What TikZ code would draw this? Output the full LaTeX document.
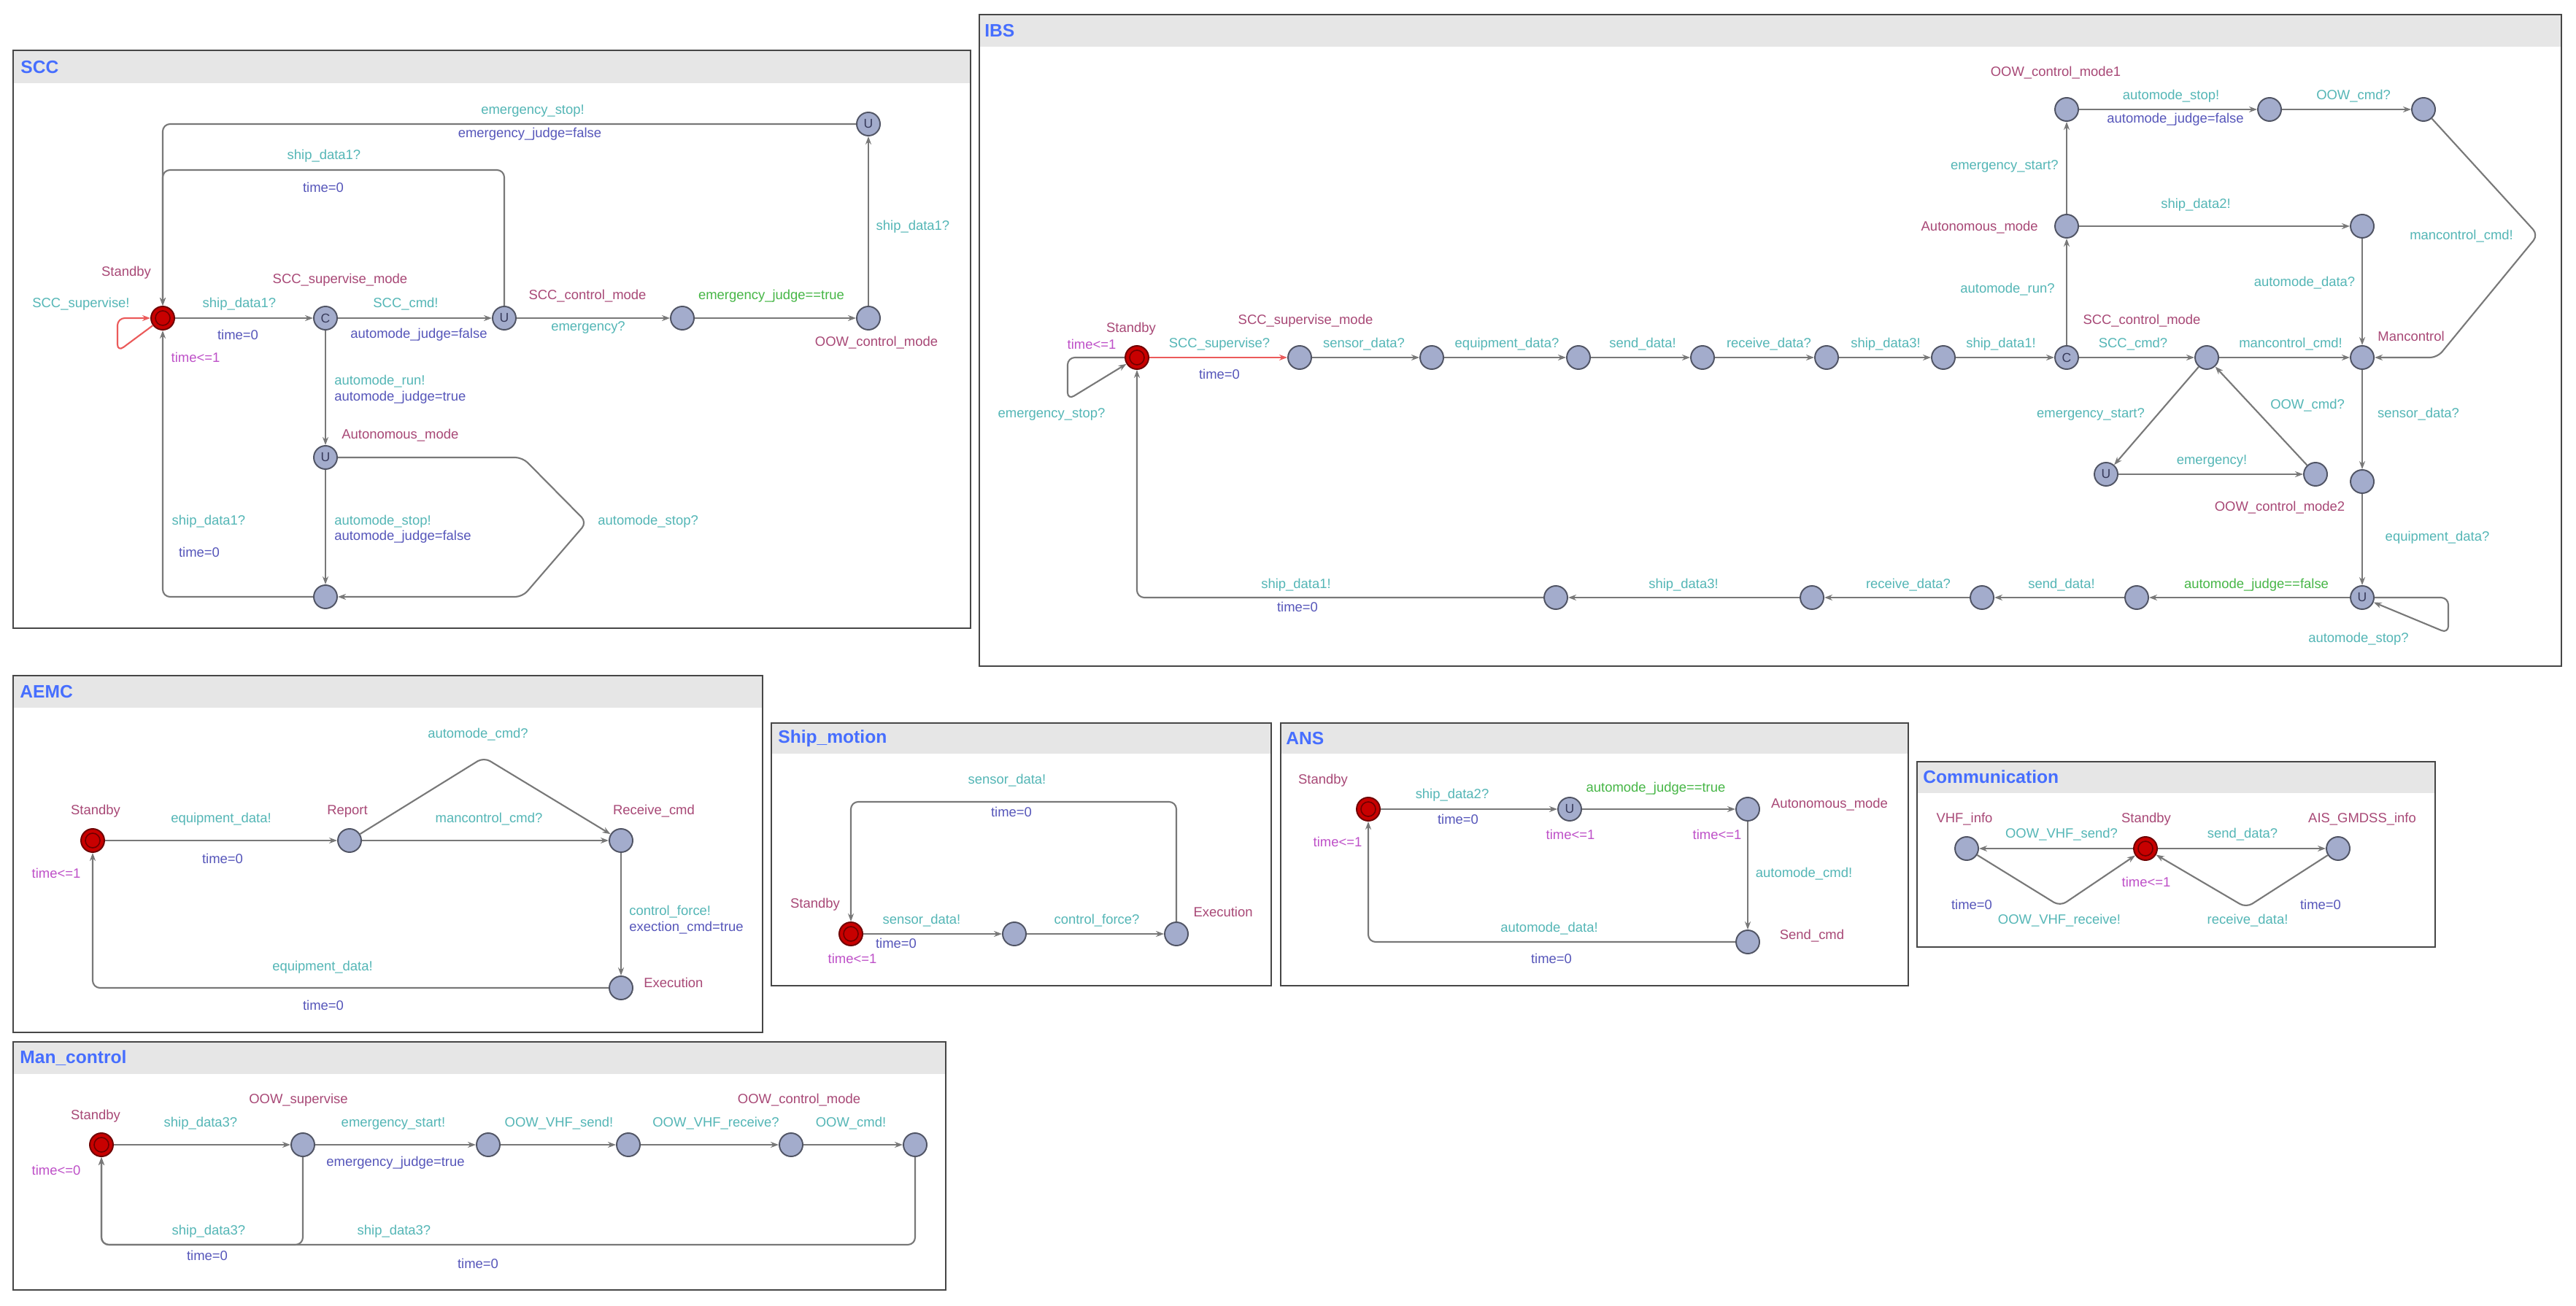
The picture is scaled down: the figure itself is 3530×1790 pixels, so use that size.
\documentclass[tikz,border=0pt]{standalone}
\usepackage{fontspec}
\setmainfont{Liberation Sans}
\usetikzlibrary{arrows.meta}
\definecolor{locf}{RGB}{163,172,204}
\definecolor{locb}{RGB}{80,84,100}
\definecolor{initf}{RGB}{200,0,0}
\definecolor{initb}{RGB}{110,0,0}
\definecolor{edgec}{RGB}{120,120,120}
\definecolor{redc}{RGB}{235,90,90}
\definecolor{namec}{RGB}{168,72,118}
\definecolor{syncc}{RGB}{84,182,182}
\definecolor{updc}{RGB}{86,86,186}
\definecolor{guardc}{RGB}{70,182,70}
\definecolor{invc}{RGB}{190,80,200}
\definecolor{titlec}{RGB}{70,110,255}
\definecolor{barc}{RGB}{230,230,230}
\definecolor{panelc}{RGB}{70,70,70}
\definecolor{markc}{RGB}{55,58,90}
\tikzset{
  loc/.style={circle, draw=locb, fill=locf, line width=1.1pt, minimum size=0.64cm, inner sep=0pt,
    text=markc, font=\fontsize{10}{12}\selectfont},
  initloc/.style={circle, draw=initb, fill=initf, line width=1.1pt, minimum size=0.64cm, inner sep=0pt,
    path picture={\draw[initb, line width=0.9pt] (path picture bounding box.center) circle (0.2cm);}},
  edge/.style={draw=edgec, line width=1.2pt, rounded corners=0.2cm,
    -{Stealth[length=0.22cm,width=0.16cm]}},
  redge/.style={edge, draw=redc},
  lbl/.style={inner sep=0pt, font=\fontsize{10.5}{12.6}\selectfont},
  nm/.style={lbl, text=namec},
  sy/.style={lbl, text=syncc},
  up/.style={lbl, text=updc},
  gd/.style={lbl, text=guardc},
  iv/.style={lbl, text=invc},
  ttl/.style={inner sep=0pt, anchor=west, text=titlec, font=\bfseries\fontsize{14}{16}\selectfont},
  bar/.style={fill=barc},
  frame/.style={draw=panelc, line width=1.6pt}
}
\begin{document}
\begin{tikzpicture}[x=0.02cm,y=-0.02cm]
\useasboundingbox (0,0) rectangle (3530,1790);
\fill[white] (0,0) rectangle (3530,1790);

% ---------------- panels ----------------
\fill[bar] (18,69) rectangle (1330,114);   \draw[frame] (18,69) rectangle (1330,861);
\node[ttl] (tSCC) at (28,92) {SCC};
\fill[bar] (1342,20) rectangle (3510,64);  \draw[frame] (1342,20) rectangle (3510,913);
\node[ttl] (tIBS) at (1349,42) {IBS};
\fill[bar] (18,926) rectangle (1045,970);  \draw[frame] (18,926) rectangle (1045,1415);
\node[ttl] (tAEMC) at (27,948) {AEMC};
\fill[bar] (1057,991) rectangle (1742,1033); \draw[frame] (1057,991) rectangle (1742,1351);
\node[ttl] (tSM) at (1066,1012) {Ship\_motion};
\fill[bar] (1755,991) rectangle (2615,1033); \draw[frame] (1755,991) rectangle (2615,1351);
\node[ttl] (tANS) at (1762,1012) {ANS};
\fill[bar] (2627,1044) rectangle (3337,1087); \draw[frame] (2627,1044) rectangle (3337,1298);
\node[ttl] (tCOM) at (2635,1065) {Communication};
\fill[bar] (18,1428) rectangle (1296,1472); \draw[frame] (18,1428) rectangle (1296,1768);
\node[ttl] (tMAN) at (27,1450) {Man\_control};

% ---------------- SCC ----------------
\node[initloc] (s_std) at (223,436) {};
\node[loc] (s_sup) at (446,436) {C};
\node[loc] (s_ctl) at (691,436) {U};
\node[loc] (s_em) at (935,436) {};
\node[loc] (s_oow) at (1190,436) {};
\node[loc] (s_top) at (1190,170) {U};
\node[loc] (s_auto) at (446,627) {U};
\node[loc] (s_bot) at (446,818) {};

\draw[edge] (s_std) -- (s_sup);
\draw[edge] (s_sup) -- (s_ctl);
\draw[edge] (s_ctl) -- (s_em);
\draw[edge] (s_em) -- (s_oow);
\draw[edge] (s_oow) -- (s_top);
\draw[edge] (s_top) -| (s_std);
\draw[edge] (s_ctl) |- (223,233) -- (s_std);
\draw[edge] (s_sup) -- (s_auto);
\draw[edge] (s_auto) -- (s_bot);
\draw[edge] (s_auto) -- (716,627) -- (804,716) -- (716,818) -- (s_bot);
\draw[edge] (s_bot) -| (s_std);
\draw[redge] (s_std) -- (161,482) -- (161,436) -- (s_std);

\node[nm] (sl1) at (173,374) {Standby};
\node[sy] (sl2) at (111,417) {SCC\_supervise!};
\node[iv] (sl3) at (268,490) {time<=1};
\node[nm] (sl4) at (466,384) {SCC\_supervise\_mode};
\node[sy] (sl5) at (328,417) {ship\_data1?};
\node[up] (sl6) at (326,459) {time=0};
\node[sy] (sl7) at (556,417) {SCC\_cmd!};
\node[up] (sl8) at (574,459) {automode\_judge=false};
\node[nm] (sl9) at (805,406) {SCC\_control\_mode};
\node[sy] (sl10) at (806,449) {emergency?};
\node[gd] (sl11) at (1057,406) {emergency\_judge==true};
\node[nm] (sl12) at (1201,470) {OOW\_control\_mode};
\node[sy] (sl13) at (1251,311) {ship\_data1?};
\node[sy] (sl14) at (730,152) {emergency\_stop!};
\node[up] (sl15) at (726,184) {emergency\_judge=false};
\node[sy] (sl16) at (444,214) {ship\_data1?};
\node[up] (sl17) at (443,257) {time=0};
\node[sy, anchor=west] (sl18) at (458,523) {automode\_run!};
\node[up, anchor=west] (sl19) at (458,545) {automode\_judge=true};
\node[nm, anchor=west] (sl20) at (468,597) {Autonomous\_mode};
\node[sy, anchor=west] (sl21) at (458,715) {automode\_stop!};
\node[up, anchor=west] (sl22) at (458,736) {automode\_judge=false};
\node[sy, anchor=west] (sl23) at (819,715) {automode\_stop?};
\node[sy] (sl24) at (286,715) {ship\_data1?};
\node[up] (sl25) at (273,757) {time=0};

% ---------------- IBS ----------------
\node[initloc] (i_std) at (1558,490) {};
\node[loc] (i1) at (1781,490) {};
\node[loc] (i2) at (1962,490) {};
\node[loc] (i3) at (2163,490) {};
\node[loc] (i4) at (2333,490) {};
\node[loc] (i5) at (2503,490) {};
\node[loc] (i6) at (2663,490) {};
\node[loc] (i_c) at (2832,490) {C};
\node[loc] (i8) at (3024,490) {};
\node[loc] (i_man) at (3237,490) {};
\node[loc] (i_auto) at (2832,310) {};
\node[loc] (i_oow1) at (2832,150) {};
\node[loc] (i_t2) at (3110,150) {};
\node[loc] (i_t3) at (3321,150) {};
\node[loc] (i_sd2) at (3237,310) {};
\node[loc] (i_u) at (2886,650) {U};
\node[loc] (i_oow2) at (3173,650) {};
\node[loc] (i_sen) at (3237,660) {};
\node[loc] (i_ub) at (3237,819) {U};
\node[loc] (i_b1) at (2928,819) {};
\node[loc] (i_b2) at (2716,819) {};
\node[loc] (i_b3) at (2483,819) {};
\node[loc] (i_b4) at (2132,819) {};

\draw[redge] (i_std) -- (i1);
\draw[edge] (i1) -- (i2);
\draw[edge] (i2) -- (i3);
\draw[edge] (i3) -- (i4);
\draw[edge] (i4) -- (i5);
\draw[edge] (i5) -- (i6);
\draw[edge] (i6) -- (i_c);
\draw[edge] (i_c) -- (i8);
\draw[edge] (i8) -- (i_man);
\draw[edge] (i_c) -- (i_auto);
\draw[edge] (i_auto) -- (i_oow1);
\draw[edge] (i_oow1) -- (i_t2);
\draw[edge] (i_t2) -- (i_t3);
\draw[edge] (i_t3) -- (3478,322) -- (3340,490) -- (i_man);
\draw[edge] (i_auto) -- (i_sd2);
\draw[edge] (i_sd2) -- (i_man);
\draw[edge] (i8) -- (i_u);
\draw[edge] (i_u) -- (i_oow2);
\draw[edge] (i_oow2) -- (i8);
\draw[edge] (i_man) -- (i_sen);
\draw[edge] (i_sen) -- (i_ub);
\draw[edge] (i_ub) -- (i_b1);
\draw[edge] (i_b1) -- (i_b2);
\draw[edge] (i_b2) -- (i_b3);
\draw[edge] (i_b3) -- (i_b4);
\draw[edge] (i_b4) -| (i_std);
\draw[edge] (i_ub) -- (3355,819) -- (3355,868) -- (i_ub);
\draw[edge] (i_std) -- (1463,490) -- (1463,548) -- (i_std);

\node[nm] (il1) at (1550,451) {Standby};
\node[iv] (il2) at (1496,472) {time<=1};
\node[sy] (il3) at (1441,568) {emergency\_stop?};
\node[sy] (il4) at (1671,472) {SCC\_supervise?};
\node[up] (il5) at (1671,513) {time=0};
\node[nm] (il6) at (1789,440) {SCC\_supervise\_mode};
\node[sy] (il7) at (1869,472) {sensor\_data?};
\node[sy] (il8) at (2065,472) {equipment\_data?};
\node[sy] (il9) at (2251,472) {send\_data!};
\node[sy] (il10) at (2424,472) {receive\_data?};
\node[sy] (il11) at (2584,472) {ship\_data3!};
\node[sy] (il12) at (2742,472) {ship\_data1!};
\node[nm] (il13) at (2935,440) {SCC\_control\_mode};
\node[sy] (il14) at (2923,472) {SCC\_cmd?};
\node[sy] (il15) at (3139,472) {mancontrol\_cmd!};
\node[nm] (il16) at (3304,461) {Mancontrol};
\node[sy, anchor=east] (il17) at (2816,397) {automode\_run?};
\node[nm, anchor=east] (il18) at (2793,312) {Autonomous\_mode};
\node[sy, anchor=east] (il19) at (2821,228) {emergency\_start?};
\node[nm] (il20) at (2817,100) {OOW\_control\_mode1};
\node[sy] (il21) at (2975,132) {automode\_stop!};
\node[up] (il22) at (2981,164) {automode\_judge=false};
\node[sy] (il23) at (3225,132) {OOW\_cmd?};
\node[sy] (il24) at (3009,281) {ship\_data2!};
\node[sy] (il25) at (3158,388) {automode\_data?};
\node[sy] (il26) at (3373,324) {mancontrol\_cmd!};
\node[sy] (il27) at (2865,568) {emergency\_start?};
\node[sy] (il28) at (3031,632) {emergency!};
\node[sy] (il29) at (3162,556) {OOW\_cmd?};
\node[nm] (il30) at (3124,696) {OOW\_control\_mode2};
\node[sy] (il31) at (3314,568) {sensor\_data?};
\node[sy] (il32) at (3340,737) {equipment\_data?};
\node[gd] (il33) at (3092,802) {automode\_judge==false};
\node[sy] (il34) at (2825,802) {send\_data!};
\node[sy] (il35) at (2615,802) {receive\_data?};
\node[sy] (il36) at (2307,802) {ship\_data3!};
\node[sy] (il37) at (1776,802) {ship\_data1!};
\node[up] (il38) at (1778,832) {time=0};
\node[sy] (il39) at (3232,876) {automode\_stop?};

% ---------------- AEMC ----------------
\node[initloc] (a_std) at (127,1152) {};
\node[loc] (a_rep) at (479,1152) {};
\node[loc] (a_rcv) at (851,1152) {};
\node[loc] (a_exe) at (851,1354) {};
\draw[edge] (a_std) -- (a_rep);
\draw[edge] (a_rep) -- (a_rcv);
\draw[edge] (a_rep) -- (663,1038) -- (a_rcv);
\draw[edge] (a_rcv) -- (a_exe);
\draw[edge] (a_exe) -| (a_std);
\node[nm] (al1) at (131,1112) {Standby};
\node[nm] (al2) at (476,1112) {Report};
\node[nm] (al3) at (896,1112) {Receive\_cmd};
\node[nm, anchor=west] (al4) at (882,1347) {Execution};
\node[sy] (al5) at (303,1123) {equipment\_data!};
\node[up] (al6) at (305,1177) {time=0};
\node[sy] (al7) at (670,1123) {mancontrol\_cmd?};
\node[sy] (al8) at (655,1007) {automode\_cmd?};
\node[sy, anchor=west] (al9) at (862,1250) {control\_force!};
\node[up, anchor=west] (al10) at (862,1272) {exection\_cmd=true};
\node[sy] (al11) at (442,1326) {equipment\_data!};
\node[up] (al12) at (443,1378) {time=0};
\node[iv] (al13) at (77,1197) {time<=1};

% ---------------- Ship_motion ----------------
\node[initloc] (m_std) at (1166,1280) {};
\node[loc] (m2) at (1390,1280) {};
\node[loc] (m_exe) at (1612,1280) {};
\draw[edge] (m_std) -- (m2);
\draw[edge] (m2) -- (m_exe);
\draw[edge] (m_exe) -- (1612,1099) -- (1166,1099) -- (m_std);
\node[nm] (ml1) at (1117,1240) {Standby};
\node[nm] (ml2) at (1676,1250) {Execution};
\node[sy] (ml3) at (1380,1070) {sensor\_data!};
\node[up] (ml4) at (1386,1113) {time=0};
\node[sy] (ml5) at (1263,1262) {sensor\_data!};
\node[up] (ml6) at (1228,1293) {time=0};
\node[iv] (ml7) at (1168,1314) {time<=1};
\node[sy] (ml8) at (1503,1262) {control\_force?};

% ---------------- ANS ----------------
\node[initloc] (n_std) at (1875,1109) {};
\node[loc] (n_u) at (2151,1109) {U};
\node[loc] (n_auto) at (2395,1109) {};
\node[loc] (n_send) at (2395,1291) {};
\draw[edge] (n_std) -- (n_u);
\draw[edge] (n_u) -- (n_auto);
\draw[edge] (n_auto) -- (n_send);
\draw[edge] (n_send) -| (n_std);
\node[nm] (nl1) at (1813,1070) {Standby};
\node[sy] (nl2) at (1990,1090) {ship\_data2?};
\node[up] (nl3) at (1998,1123) {time=0};
\node[iv] (nl4) at (2152,1144) {time<=1};
\node[gd] (nl5) at (2269,1081) {automode\_judge==true};
\node[nm] (nl6) at (2507,1103) {Autonomous\_mode};
\node[iv] (nl7) at (2353,1144) {time<=1};
\node[sy] (nl8) at (2472,1198) {automode\_cmd!};
\node[nm] (nl9) at (2483,1283) {Send\_cmd};
\node[sy] (nl10) at (2123,1273) {automode\_data!};
\node[up] (nl11) at (2126,1314) {time=0};
\node[iv] (nl12) at (1833,1154) {time<=1};

% ---------------- Communication ----------------
\node[loc] (c_vhf) at (2695,1163) {};
\node[initloc] (c_std) at (2940,1163) {};
\node[loc] (c_ais) at (3204,1163) {};
\draw[edge] (c_std) -- (c_vhf);
\draw[edge] (c_std) -- (c_ais);
\draw[edge] (c_vhf) -- (2823,1242) -- (c_std);
\draw[edge] (c_ais) -- (3078,1244) -- (c_std);
\node[nm] (cl1) at (2692,1123) {VHF\_info};
\node[nm] (cl2) at (2941,1123) {Standby};
\node[nm] (cl3) at (3237,1123) {AIS\_GMDSS\_info};
\node[sy] (cl4) at (2825,1144) {OOW\_VHF\_send?};
\node[sy] (cl5) at (3073,1144) {send\_data?};
\node[iv] (cl6) at (2941,1209) {time<=1};
\node[up] (cl7) at (2702,1240) {time=0};
\node[sy] (cl8) at (2822,1262) {OOW\_VHF\_receive!};
\node[sy] (cl9) at (3080,1262) {receive\_data!};
\node[up] (cl10) at (3180,1240) {time=0};

% ---------------- Man_control ----------------
\node[initloc] (h_std) at (139,1569) {};
\node[loc] (h_sup) at (415,1569) {};
\node[loc] (h3) at (669,1569) {};
\node[loc] (h4) at (861,1569) {};
\node[loc] (h5) at (1084,1569) {};
\node[loc] (h6) at (1254,1569) {};
\draw[edge] (h_std) -- (h_sup);
\draw[edge] (h_sup) -- (h3);
\draw[edge] (h3) -- (h4);
\draw[edge] (h4) -- (h5);
\draw[edge] (h5) -- (h6);
\draw[edge] (h_sup) |- (139,1706) -- (h_std);
\draw[edge] (h6) |- (139,1706) -- (h_std);
\node[nm] (hl1) at (131,1530) {Standby};
\node[iv] (hl2) at (77,1604) {time<=0};
\node[sy] (hl3) at (275,1540) {ship\_data3?};
\node[nm] (hl4) at (409,1508) {OOW\_supervise};
\node[sy] (hl5) at (539,1540) {emergency\_start!};
\node[up] (hl6) at (542,1594) {emergency\_judge=true};
\node[sy] (hl7) at (766,1540) {OOW\_VHF\_send!};
\node[sy] (hl8) at (981,1540) {OOW\_VHF\_receive?};
\node[sy] (hl9) at (1166,1540) {OOW\_cmd!};
\node[nm] (hl10) at (1095,1508) {OOW\_control\_mode};
\node[sy] (hl11) at (286,1688) {ship\_data3?};
\node[up] (hl12) at (284,1721) {time=0};
\node[sy] (hl13) at (540,1688) {ship\_data3?};
\node[up] (hl14) at (655,1732) {time=0};
\end{tikzpicture}
\end{document}
